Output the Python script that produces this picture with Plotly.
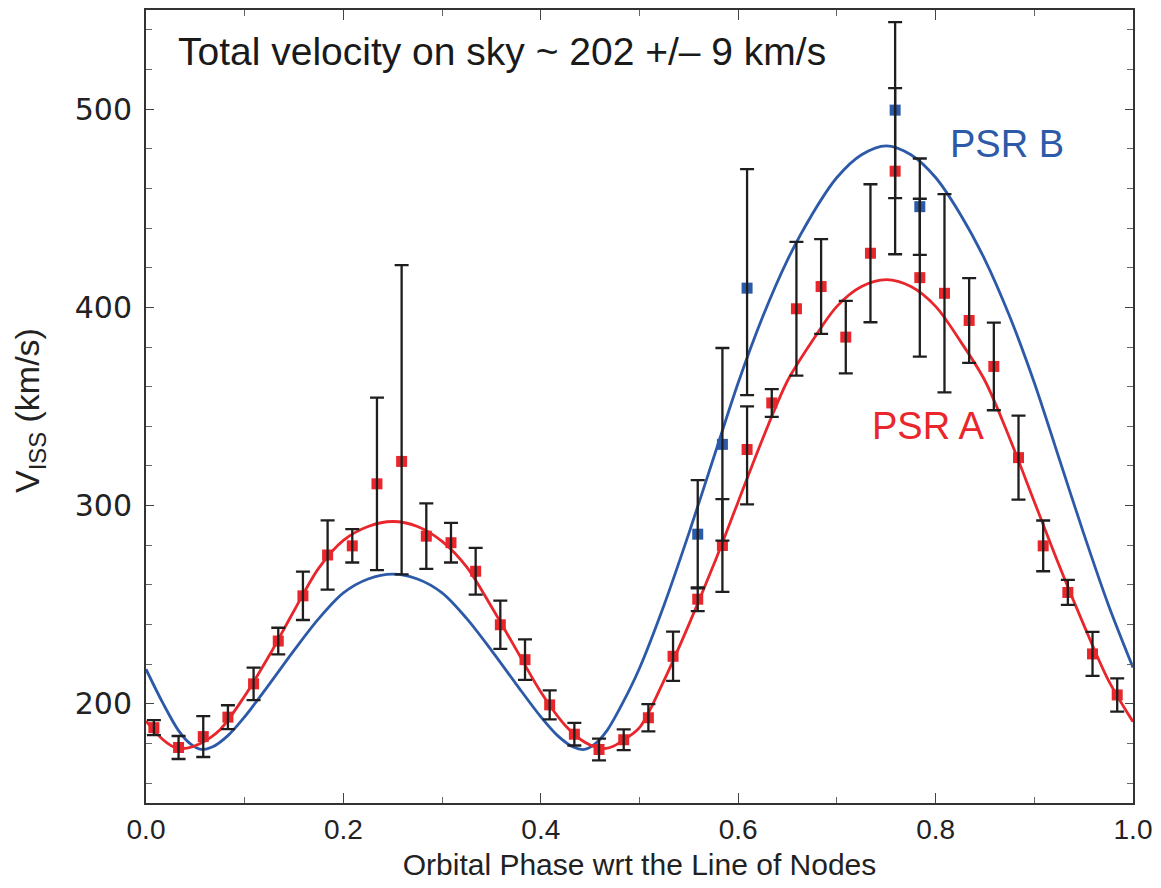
import plotly.graph_objects as go

# ---------------- data ----------------
phase_a = [0.008, 0.033, 0.058, 0.083, 0.109, 0.134, 0.159, 0.184, 0.209, 0.234,
           0.259, 0.284, 0.309, 0.334, 0.359, 0.384, 0.409, 0.434, 0.459, 0.484,
           0.509, 0.534, 0.559, 0.584, 0.609, 0.634, 0.659, 0.684, 0.709, 0.734,
           0.759, 0.784, 0.809, 0.834, 0.859, 0.884, 0.909, 0.934, 0.959, 0.984]
v_a = [188.0, 178.0, 183.5, 193.3, 210.1, 231.7, 254.5, 275.1, 279.7, 311.0,
       322.3, 284.6, 281.3, 266.9, 239.9, 222.3, 199.5, 184.7, 177.0, 181.9,
       193.0, 224.0, 252.8, 279.9, 328.3, 351.8, 399.3, 410.5, 385.0, 427.3,
       468.7, 415.0, 407.1, 393.4, 370.2, 324.2, 279.7, 256.2, 225.2, 204.5]
err_a_plus = [3.8, 5.8, 10.3, 6.0, 8.2, 6.7, 12.2, 17.5, 8.4, 43.5,
              99.0, 16.5, 10.0, 11.8, 12.2, 10.2, 7.3, 5.7, 5.5, 5.2,
              6.9, 12.4, 6.0, 23.4, 21.8, 7.0, 33.7, 23.9, 18.3, 34.8,
              41.9, 39.8, 50.0, 21.4, 22.1, 21.2, 12.8, 6.3, 11.1, 8.4]
err_a_minus = [3.8, 5.8, 10.3, 6.0, 8.2, 6.7, 12.2, 17.5, 8.4, 43.5,
               57.0, 16.5, 10.0, 11.8, 12.2, 10.2, 7.3, 5.7, 5.5, 5.2,
               6.9, 12.4, 6.0, 23.4, 27.7, 7.0, 33.7, 23.9, 18.3, 34.8,
               41.9, 39.8, 50.0, 21.4, 22.1, 21.2, 12.8, 6.3, 11.1, 8.4]

phase_b = [0.559, 0.584, 0.609, 0.759, 0.784]
v_b = [285.6, 330.9, 409.7, 499.5, 450.8]
err_b_plus = [27.3, 48.6, 60.0, 44.4, 24.3]
err_b_minus = [27.3, 48.6, 54.0, 44.4, 24.3]

# fitted model curves
curve_a_phase = [0.000, 0.017, 0.026, 0.034, 0.043, 0.055, 0.075, 0.100, 0.125, 0.150,
                 0.175, 0.200, 0.225, 0.250, 0.275, 0.300, 0.325, 0.350, 0.375, 0.400,
                 0.425, 0.445, 0.457, 0.466, 0.474, 0.483, 0.500, 0.525, 0.550, 0.575,
                 0.600, 0.625, 0.650, 0.675, 0.700, 0.725, 0.750, 0.775, 0.800, 0.825,
                 0.850, 0.875, 0.900, 0.925, 0.950, 0.975, 1.000]
curve_a = [191.3, 182.0, 178.8, 177.5, 177.8, 180.0, 187.0, 204.0, 224.5, 247.0,
           268.5, 282.5, 289.5, 292.0, 289.5, 282.0, 269.0, 249.0, 227.5, 206.0,
           189.0, 180.5, 178.0, 177.5, 178.8, 181.5, 188.0, 212.0, 240.0, 270.0,
           302.0, 334.0, 363.0, 383.0, 400.5, 410.5, 414.0, 410.5, 400.5, 383.0,
           363.0, 334.0, 302.0, 270.0, 240.0, 212.0, 191.0]

curve_b_phase = [0.000, 0.017, 0.033, 0.045, 0.056, 0.067, 0.083, 0.100, 0.125, 0.150,
                 0.175, 0.200, 0.225, 0.250, 0.275, 0.300, 0.325, 0.350, 0.375, 0.400,
                 0.417, 0.433, 0.444, 0.455, 0.467, 0.483, 0.500, 0.525, 0.550, 0.575,
                 0.600, 0.625, 0.650, 0.675, 0.700, 0.725, 0.750, 0.775, 0.800, 0.825,
                 0.850, 0.875, 0.900, 0.925, 0.950, 0.975, 1.000]
curve_b = [217.5, 200.5, 186.5, 179.8, 177.0, 178.2, 184.0, 193.5, 210.0, 227.0,
           243.0, 256.0, 263.0, 265.4, 263.0, 256.0, 243.0, 227.0, 210.0, 193.5,
           184.0, 178.2, 177.0, 179.8, 186.5, 200.5, 218.0, 250.0, 286.0, 324.0,
           362.0, 395.5, 424.0, 447.0, 465.5, 477.0, 481.5, 477.0, 465.5, 447.0,
           424.0, 395.5, 362.0, 324.0, 286.0, 250.0, 218.3]

x_ticks = [0.0, 0.2, 0.4, 0.6, 0.8, 1.0]
x_ticklabels = ["0.0", "0.2", "0.4", "0.6", "0.8", "1.0"]
y_ticks = [200, 300, 400, 500]
y_ticklabels = ["200", "300", "400", "500"]

RED = "#e8262b"
BLUE = "#2c5aa8"
ERR = "#1e1e1e"

fig = go.Figure()

fig.add_trace(go.Scatter(x=curve_b_phase, y=curve_b, mode="lines",
                         line=dict(color=BLUE, width=2.8, shape="spline", smoothing=0.9),
                         hoverinfo="skip", showlegend=False))
fig.add_trace(go.Scatter(x=curve_a_phase, y=curve_a, mode="lines",
                         line=dict(color=RED, width=2.8, shape="spline", smoothing=0.9),
                         hoverinfo="skip", showlegend=False))

fig.add_trace(go.Scatter(x=phase_a, y=v_a, mode="markers",
                         marker=dict(symbol="square", size=11, color=RED),
                         showlegend=False))
fig.add_trace(go.Scatter(x=phase_b, y=v_b, mode="markers",
                         marker=dict(symbol="square", size=11, color=BLUE),
                         showlegend=False))

# error bars drawn on top of the markers
fig.add_trace(go.Scatter(x=phase_a, y=v_a, mode="markers",
                         marker=dict(size=1, color="rgba(0,0,0,0)"),
                         error_y=dict(type="data", symmetric=False, array=err_a_plus,
                                      arrayminus=err_a_minus, color=ERR, thickness=2.3, width=7),
                         hoverinfo="skip", showlegend=False))
fig.add_trace(go.Scatter(x=phase_b, y=v_b, mode="markers",
                         marker=dict(size=1, color="rgba(0,0,0,0)"),
                         error_y=dict(type="data", symmetric=False, array=err_b_plus,
                                      arrayminus=err_b_minus, color=ERR, thickness=2.3, width=7),
                         hoverinfo="skip", showlegend=False))

fig.add_annotation(x=0.03, y=529, xref="x", yref="y", xanchor="left", yanchor="middle",
                   text="Total velocity on sky ~ 202 +/– 9 km/s", showarrow=False,
                   font=dict(family="Liberation Sans, Arial, sans-serif", size=39, color="#1a1a1a"))
fig.add_annotation(x=0.8126, y=482.5, xref="x", yref="y", xanchor="left", yanchor="middle",
                   text="PSR B", showarrow=False,
                   font=dict(family="Liberation Sans, Arial, sans-serif", size=38, color=BLUE))
fig.add_annotation(x=0.7335, y=340, xref="x", yref="y", xanchor="left", yanchor="middle",
                   text="PSR A", showarrow=False,
                   font=dict(family="Liberation Sans, Arial, sans-serif", size=38, color=RED))
# y-axis title
fig.add_annotation(x=-0.118, y=0.495, xref="paper", yref="paper", xanchor="center", yanchor="middle",
                   text="V<sub>ISS</sub> (km/s)", showarrow=False, textangle=-90,
                   font=dict(family="Liberation Sans, Arial", size=34, color="#222"))

fig.update_layout(
    width=1161, height=888,
    margin=dict(l=146, r=28, t=10, b=85),
    paper_bgcolor="white", plot_bgcolor="white",
    showlegend=False,
    xaxis=dict(range=[0, 1], tickmode="array", tickvals=x_ticks, ticktext=x_ticklabels,
               ticks="inside", ticklen=10, tickwidth=1.2, tickcolor="#444",
               minor=dict(dtick=0.1, ticks="inside", ticklen=6, tickwidth=1, tickcolor="#666"),
               showline=True, linecolor="#333", linewidth=2, mirror="ticks",
               showgrid=False, zeroline=False, automargin=False,
               tickfont=dict(family="Liberation Sans, Arial", size=28, color="#222"),
               title=dict(text="Orbital Phase wrt the Line of Nodes",
                          font=dict(family="Liberation Sans, Arial", size=30, color="#222"),
                          standoff=10)),
    yaxis=dict(range=[150, 550], tickmode="array", tickvals=y_ticks, ticktext=y_ticklabels,
               ticks="inside", ticklen=8, tickwidth=1.2, tickcolor="#444",
               minor=dict(dtick=20, tick0=0, ticks="inside", ticklen=6, tickwidth=1, tickcolor="#666"),
               showline=True, linecolor="#333", linewidth=2, mirror="ticks",
               showgrid=False, zeroline=False, automargin=False,
               tickfont=dict(family="DejaVu Sans, Arial", size=30, color="#222"),
               ticklabelstandoff=6),
)

fig.write_html("out.html", config={"displayModeBar": False},
               post_script="document.body.style.margin='0';document.body.style.overflow='hidden';")
